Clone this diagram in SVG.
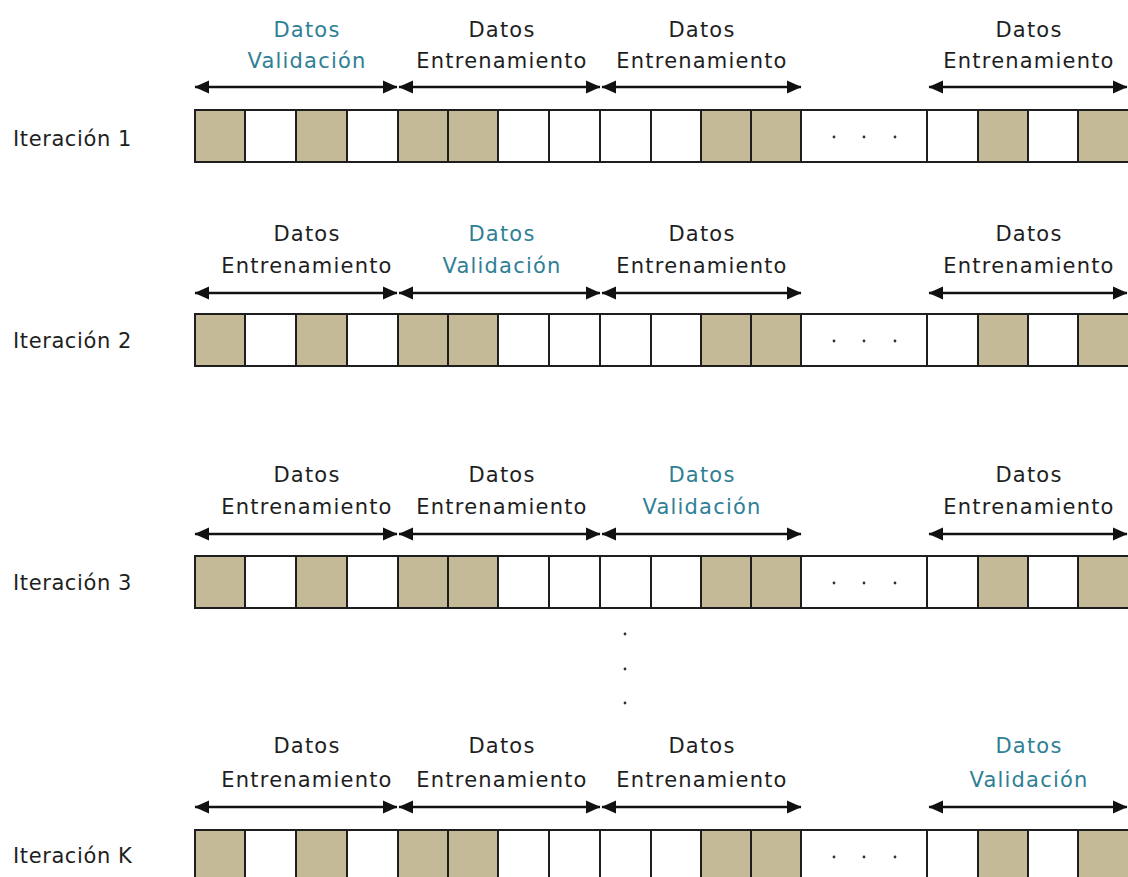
<svg xmlns="http://www.w3.org/2000/svg" xmlns:xlink="http://www.w3.org/1999/xlink" width="1128" height="877" viewBox="0 0 1128 877">
<style>
.bg{fill:#ffffff}
.c{stroke:#1e1e1e;stroke-width:2;fill:#ffffff}
.s{stroke:#1e1e1e;stroke-width:2;fill:#c4ba98}
.dot{fill:#333333}
.arr{stroke:#111111;stroke-width:2.4;fill:none;marker-start:url(#ah);marker-end:url(#ah)}
.t{font-family:"DejaVu Sans","Verdana",sans-serif;font-size:21px;letter-spacing:1.2px;fill:#1e1e1e;text-anchor:middle}
.v{fill:#2f7f96}
.lab{font-family:"DejaVu Sans","Verdana",sans-serif;font-size:21px;letter-spacing:0.6px;fill:#1e1e1e}
</style>
<defs>
<marker id="ah" markerUnits="userSpaceOnUse" markerWidth="15" markerHeight="16" refX="14" refY="8" orient="auto-start-reverse" viewBox="0 0 15 16">
<path d="M0,1.5 L14.5,8 L0,14.5 z" fill="#111111"/>
</marker>
<g id="strip">
<rect class="s" x="195" y="0" width="50" height="52"/>
<rect class="c" x="245" y="0" width="51" height="52"/>
<rect class="s" x="296" y="0" width="51" height="52"/>
<rect class="c" x="347" y="0" width="51" height="52"/>
<rect class="s" x="398" y="0" width="50" height="52"/>
<rect class="s" x="448" y="0" width="50" height="52"/>
<rect class="c" x="498" y="0" width="51" height="52"/>
<rect class="c" x="549" y="0" width="51" height="52"/>
<rect class="c" x="600" y="0" width="51" height="52"/>
<rect class="c" x="651" y="0" width="50" height="52"/>
<rect class="s" x="701" y="0" width="50" height="52"/>
<rect class="s" x="751" y="0" width="50" height="52"/>
<rect class="c" x="801" y="0" width="126" height="52"/>
<rect class="c" x="927" y="0" width="51" height="52"/>
<rect class="s" x="978" y="0" width="50" height="52"/>
<rect class="c" x="1028" y="0" width="50" height="52"/>
<rect class="s" x="1078" y="0" width="52" height="52"/>
<circle class="dot" cx="834" cy="27" r="1.4"/>
<circle class="dot" cx="864" cy="27" r="1.4"/>
<circle class="dot" cx="895" cy="27" r="1.4"/>
</g>
</defs>
<rect class="bg" x="0" y="0" width="1128" height="877"/>

<g id="connectors">
<line class="arr" x1="195" y1="87" x2="397" y2="87"/>
<line class="arr" x1="399" y1="87" x2="600" y2="87"/>
<line class="arr" x1="602" y1="87" x2="801" y2="87"/>
<line class="arr" x1="929" y1="87" x2="1127" y2="87"/>
<line class="arr" x1="195" y1="293" x2="397" y2="293"/>
<line class="arr" x1="399" y1="293" x2="600" y2="293"/>
<line class="arr" x1="602" y1="293" x2="801" y2="293"/>
<line class="arr" x1="929" y1="293" x2="1127" y2="293"/>
<line class="arr" x1="195" y1="534" x2="397" y2="534"/>
<line class="arr" x1="399" y1="534" x2="600" y2="534"/>
<line class="arr" x1="602" y1="534" x2="801" y2="534"/>
<line class="arr" x1="929" y1="534" x2="1127" y2="534"/>
<line class="arr" x1="195" y1="807" x2="397" y2="807"/>
<line class="arr" x1="399" y1="807" x2="600" y2="807"/>
<line class="arr" x1="602" y1="807" x2="801" y2="807"/>
<line class="arr" x1="929" y1="807" x2="1127" y2="807"/>
</g>

<g id="iter1">
<text class="lab" x="13" y="146">Iteración 1</text>
<use xlink:href="#strip" href="#strip" x="0" y="110"/>
<text class="t v" x="307" y="37">Datos</text>
<text class="t v" x="307" y="68">Validación</text>
<text class="t" x="502" y="37">Datos</text>
<text class="t" x="502" y="68">Entrenamiento</text>
<text class="t" x="702" y="37">Datos</text>
<text class="t" x="702" y="68">Entrenamiento</text>
<text class="t" x="1029" y="37">Datos</text>
<text class="t" x="1029" y="68">Entrenamiento</text>
</g>

<g id="iter2">
<text class="lab" x="13" y="348">Iteración 2</text>
<use xlink:href="#strip" href="#strip" x="0" y="314"/>
<text class="t" x="307" y="241">Datos</text>
<text class="t" x="307" y="273">Entrenamiento</text>
<text class="t v" x="502" y="241">Datos</text>
<text class="t v" x="502" y="273">Validación</text>
<text class="t" x="702" y="241">Datos</text>
<text class="t" x="702" y="273">Entrenamiento</text>
<text class="t" x="1029" y="241">Datos</text>
<text class="t" x="1029" y="273">Entrenamiento</text>
</g>

<g id="iter3">
<text class="lab" x="13" y="590">Iteración 3</text>
<use xlink:href="#strip" href="#strip" x="0" y="556"/>
<text class="t" x="307" y="482">Datos</text>
<text class="t" x="307" y="514">Entrenamiento</text>
<text class="t" x="502" y="482">Datos</text>
<text class="t" x="502" y="514">Entrenamiento</text>
<text class="t v" x="702" y="482">Datos</text>
<text class="t v" x="702" y="514">Validación</text>
<text class="t" x="1029" y="482">Datos</text>
<text class="t" x="1029" y="514">Entrenamiento</text>
</g>

<g id="ellipsis">
<circle class="dot" cx="625" cy="634" r="1.4"/>
<circle class="dot" cx="625" cy="669" r="1.4"/>
<circle class="dot" cx="625" cy="703" r="1.4"/>
</g>

<g id="iterK">
<text class="lab" x="13" y="863">Iteración K</text>
<use xlink:href="#strip" href="#strip" x="0" y="830"/>
<text class="t" x="307" y="753">Datos</text>
<text class="t" x="307" y="787">Entrenamiento</text>
<text class="t" x="502" y="753">Datos</text>
<text class="t" x="502" y="787">Entrenamiento</text>
<text class="t" x="702" y="753">Datos</text>
<text class="t" x="702" y="787">Entrenamiento</text>
<text class="t v" x="1029" y="753">Datos</text>
<text class="t v" x="1029" y="787">Validación</text>
</g>
</svg>
